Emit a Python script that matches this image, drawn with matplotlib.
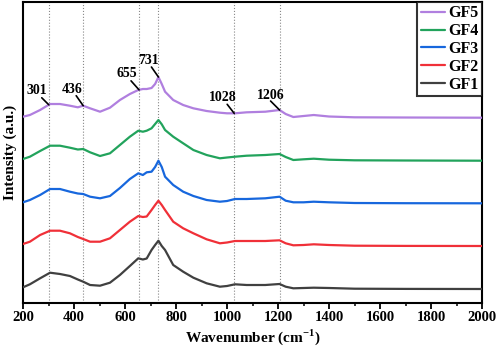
import matplotlib
matplotlib.use('Agg')
import matplotlib.pyplot as plt
import numpy as np

plt.rcParams['font.family'] = ['Liberation Serif', 'DejaVu Serif']
plt.rcParams['font.weight'] = 'bold'
plt.rcParams['mathtext.fontset'] = 'custom'
plt.rcParams['mathtext.rm'] = 'Liberation Serif:bold'
plt.rcParams['mathtext.bf'] = 'Liberation Serif:bold'

# wavenumber grid (cm-1)
wavenumber = [200, 227, 267, 306, 345, 384, 415, 436, 463, 502,
              541, 580, 619, 652, 670, 685, 704, 718, 731, 744,
              757, 789, 828, 868, 920, 972, 1000, 1031, 1077, 1150,
              1206, 1230, 1260, 1300, 1340, 1400, 1500, 1700, 2000]

# stacked intensities (a.u.), already offset as in the figure
gf5 = [186.3, 188, 193, 199, 199, 197.3, 195.7, 197.3, 194.7, 191.3,
       195.3, 203, 209, 213, 214, 214, 215, 219, 226, 219,
       211.3, 203, 198, 194.7, 192, 190.3, 189.7, 189.7, 190.7, 191.3,
       193, 189, 186, 187, 188, 186.5, 185.7, 185.5, 185.3]
gf4 = [144, 146.3, 152, 157.3, 157.3, 155.3, 153.5, 154, 150.7, 147,
       149.7, 158, 166.3, 172.3, 171.3, 172.3, 174.7, 179, 183, 178.7,
       173, 166.3, 159.7, 153, 148, 144.7, 145.5, 146.3, 147.3, 148,
       149, 146, 143, 143.7, 144.3, 143.3, 142.7, 142.5, 142.3]
gf3 = [100.7, 103, 108, 114, 114, 111.3, 109.5, 109, 106.3, 104.7,
       107, 115, 124, 129.7, 128, 130.7, 131.3, 136, 142.3, 136,
       126.3, 118, 111.3, 107, 103, 101.3, 102, 104, 104, 104.7,
       106.3, 102.3, 100.7, 100.7, 101.3, 100.7, 100, 99.8, 99.7]
gf2 = [59, 61.3, 68, 72.3, 72.3, 69.7, 66, 64, 61.3, 61.3,
       64.7, 73, 81.3, 87, 86, 86.5, 93, 98, 102.3, 98,
       93, 81.3, 74.7, 69.7, 63.7, 59.7, 60.5, 62, 62, 62,
       62.7, 59.7, 57.7, 58, 58.7, 58, 57.3, 57.1, 57]
gf1 = [15.7, 18.7, 24.7, 30.3, 29, 27, 23.5, 21.3, 18, 17.3,
       20.3, 28, 37, 44.7, 43.5, 44.5, 53, 58, 62.3, 57,
       53, 38, 31.3, 25.3, 19.7, 16.3, 17, 18.7, 18, 18,
       19, 16.3, 14.7, 15, 15.3, 15, 14.3, 14.1, 14]

series = [('GF5', gf5, '#B07FDF'), ('GF4', gf4, '#22A35C'), ('GF3', gf3, '#1767DD'),
          ('GF2', gf2, '#F03038'), ('GF1', gf1, '#404040')]

peaks = [301, 436, 655, 731, 1028, 1206]
# label offsets in pixels: (line start dx, dy, text dx, dy)
peak_offsets = [(-7, 7, -12, 14), (-7, 10, -11, 16), (-8, 9, -12, 16),
                (-7, 10, -10, 17), (-7, 9, -11, 16), (-9, 9, -9, 15)]

fig = plt.figure(figsize=(4.98, 3.47), dpi=100)
ax = fig.add_axes([0.0462, 0.1268, 0.9218, 0.8674])

for p in peaks:
    ax.axvline(p, color='#888888', ls=':', lw=0.8, zorder=1)

for name, vals, col in series:
    ax.plot(wavenumber, vals, color=col, lw=1.6, label=name, zorder=3,
            solid_joinstyle='round', solid_capstyle='round')

for p, (lx, ly, tx, ty) in zip(peaks, peak_offsets):
    yv = np.interp(p, wavenumber, gf5)
    ax.annotate('', xy=(p, yv), xytext=(lx, ly), textcoords='offset pixels',
                arrowprops=dict(arrowstyle='-', lw=1.2, color='k', shrinkA=0, shrinkB=0))
    ax.annotate(str(p), xy=(p, yv), xytext=(tx, ty), textcoords='offset pixels',
                ha='center', va='center', fontsize=10, fontweight='bold')

ax.set_xlim(200, 2000)
ax.set_ylim(0, 301)
ax.set_xticks(np.arange(200, 2001, 200))
ax.set_xticks(np.arange(300, 2000, 200), minor=True)
ax.set_yticks([])
ax.tick_params(axis='x', which='major', direction='out', length=4, width=1.3, labelsize=10.5, pad=2)
ax.tick_params(axis='x', which='minor', direction='out', length=2.5, width=1.1)
for lab in ax.get_xticklabels():
    lab.set_fontweight('bold')
for s in ax.spines.values():
    s.set_linewidth(1.5)

ax.set_xlabel(r'Wavenumber (cm$^{-1}$)', fontsize=11, fontweight='bold', labelpad=2)
ax.set_ylabel('Intensity (a.u.)', fontsize=11, fontweight='bold', labelpad=4)

leg = ax.legend(loc='upper right', fontsize=11.5, frameon=True, fancybox=False,
                borderaxespad=0, handlelength=1.55, labelspacing=0.12, handletextpad=0.2,
                borderpad=0.2)
leg.get_frame().set_edgecolor('k')
leg.get_frame().set_linewidth(1.5)
for t in leg.get_texts():
    t.set_fontweight('bold')

fig.savefig('out.png', dpi=100)
